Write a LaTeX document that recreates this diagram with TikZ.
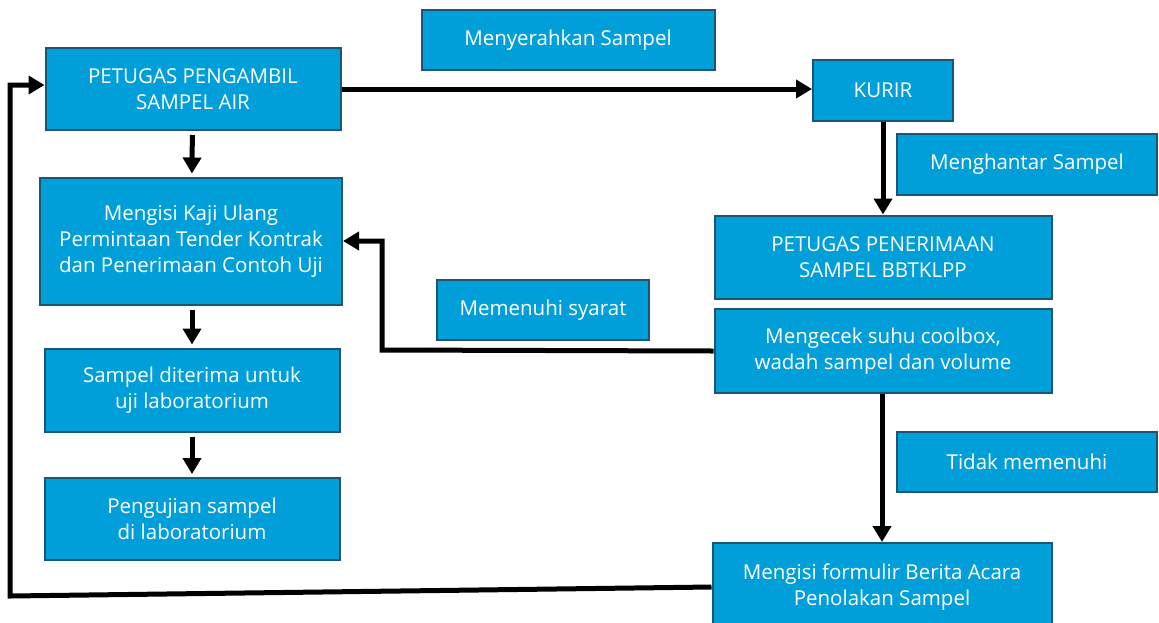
\documentclass[tikz,border=0pt]{standalone}
\usepackage{fontspec}
\setmainfont{Open Sans}
\usetikzlibrary{arrows.meta}
\definecolor{boxfill}{HTML}{009FDA}
\definecolor{boxedge}{HTML}{1D5576}
\tikzset{
  flowbox/.style={draw=boxedge, fill=boxfill, line width=2pt, text=white, align=center,
    inner sep=0pt, font=\fontsize{20.5}{26}\selectfont},
  flowarrow/.style={line width=5pt, -{Triangle[width=18pt,length=16pt]}},
  flowline/.style={line width=5pt}
}
\begin{document}
\begin{tikzpicture}[x=1pt,y=-1pt]
				\useasboundingbox (0,0) rectangle (1159,622);

				% kotak-kotak
				\node (ambil) at (193,89)[flowbox, minimum width=295pt, minimum height=82pt] {PETUGAS PENGAMBIL\\SAMPEL AIR};
				\node (serah) at (568,40)[flowbox, minimum width=293pt, minimum height=60pt] {Menyerahkan Sampel};
				\node (kurir) at (883,90)[flowbox, minimum width=140pt, minimum height=61pt] {KURIR};
				\node (antar) at (1027,164)[flowbox, minimum width=260pt, minimum height=61pt] {Menghantar Sampel};
				\node (kaji) at (191,241)[flowbox, minimum width=302pt, minimum height=127pt] {Mengisi Kaji Ulang\\Permintaan Tender Kontrak\\dan Penerimaan Contoh Uji};
				\node (terima) at (883,257)[flowbox, minimum width=337pt, minimum height=83pt] {PETUGAS PENERIMAAN\\SAMPEL BBTKLPP};
				\node (syarat) at (543,310)[flowbox, minimum width=212pt, minimum height=60pt] {Memenuhi syarat};
				\node (cek) at (883,351)[flowbox, minimum width=337pt, minimum height=84pt] {Mengecek suhu coolbox,\\wadah sampel dan volume};
				\node (diterima) at (192,390)[flowbox, minimum width=295pt, minimum height=83pt] {Sampel diterima untuk\\uji laboratorium};
				\node (uji) at (192,519)[flowbox, minimum width=295pt, minimum height=82pt] {Pengujian sampel\\di laboratorium};
				\node (tidak) at (1027,462)[flowbox, minimum width=260pt, minimum height=60pt] {Tidak memenuhi};
				\node (formulir) at (882,587)[flowbox, minimum width=339pt, minimum height=88pt] {Mengisi formulir Berita Acara\\Penolakan Sampel};

				% titik belok
				\coordinate (belok) at (382,350);
				\coordinate (balik) at (10,596);

				% panah
				\draw[flowarrow] (ambil.east) -- (ambil.east -| kurir.west);
				\draw[flowarrow, shorten <=4pt, shorten >=3pt] (ambil) -- (kaji);
				\draw[flowarrow] (kurir) -- (terima);
				\draw[flowarrow] (cek.west) -- (belok) |- (kaji.east);
				\draw[flowarrow, shorten <=4pt, shorten >=3pt] (kaji.south -| diterima) -- (diterima.north);
				\draw[flowarrow, shorten <=4pt, shorten >=3pt] (diterima) -- (uji);
				\draw[flowarrow] (cek.south -| formulir) -- (formulir.north);
				\draw[flowarrow] (formulir.west) -- (balik) |- ([yshift=4pt]ambil.west);
			\end{tikzpicture}
\end{document}
